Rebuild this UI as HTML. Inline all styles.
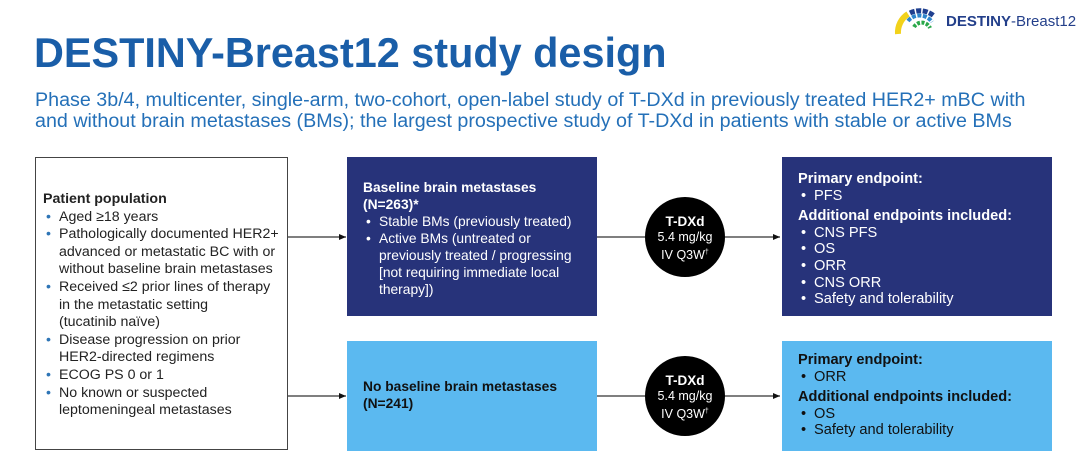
<!DOCTYPE html>
<html><head><meta charset="utf-8"><style>
*{margin:0;padding:0;box-sizing:border-box}
body{width:1080px;height:476px;background:#fff;font-family:"Liberation Sans",Arial,sans-serif;position:relative;overflow:hidden}
.a{position:absolute}
h1{position:absolute;left:34px;top:30px;font-size:41.4px;font-weight:bold;color:#1a5ea8;white-space:nowrap}
.sub{left:35px;top:90px;font-size:19.7px;line-height:21px;color:#2470b8;white-space:nowrap}
.box{position:absolute;font-size:13.8px;line-height:17px;white-space:nowrap}
ul{list-style:none}
li{position:relative;padding-left:16px}
li:before{content:"•";position:absolute;left:3px}
.left li:before{color:#2e75b6}
b{font-weight:bold}
.circ{position:absolute;width:80px;height:80px;border-radius:50%;background:#000;color:#fff;text-align:center;font-size:12.5px;line-height:15px;padding-top:17px}
.circ b{font-size:13.5px}
</style></head><body>
<h1>DESTINY-Breast12 study design</h1>
<div class="a sub">Phase 3b/4, multicenter, single-arm, two-cohort, open-label study of T-DXd in previously treated HER2+ mBC with<br>and without brain metastases (BMs); the largest prospective study of T-DXd in patients with stable or active BMs</div>

<svg class="a" style="left:894px;top:6px" width="50" height="30" viewBox="0 0 50 30">
<path d="M4 28 A22 22 0 0 1 14 8" stroke="#f2d21b" stroke-width="6" fill="none"/>
<path d="M16 7 A22 22 0 0 1 40 10" stroke="#1f3f8f" stroke-width="5" fill="none" stroke-dasharray="5 1.5"/>
<path d="M14 15 A15 15 0 0 1 38 16" stroke="#2d86cc" stroke-width="4" fill="none" stroke-dasharray="4 1.5"/>
<path d="M20 21 A9 9 0 0 1 36 22" stroke="#2aa84a" stroke-width="4" fill="none" stroke-dasharray="3 1.5"/>
</svg>
<div class="a" style="left:946px;top:13px;font-size:15px;color:#233f8a;white-space:nowrap"><b>DESTINY</b>-Breast12</div>

<div class="box left" style="left:35px;top:157px;width:253px;height:293px;border:1px solid #444;padding:33px 0 0 7px;color:#222;font-size:14.2px;line-height:17.6px">
<b>Patient population</b>
<ul>
<li>Aged ≥18 years</li>
<li>Pathologically documented HER2+<br>advanced or metastatic BC with or<br>without baseline brain metastases</li>
<li>Received ≤2 prior lines of therapy<br>in the metastatic setting<br>(tucatinib naïve)</li>
<li>Disease progression on prior<br>HER2-directed regimens</li>
<li>ECOG PS 0 or 1</li>
<li>No known or suspected<br>leptomeningeal metastases</li>
</ul></div>

<div class="box" style="left:347px;top:157px;width:250px;height:159px;background:#27337a;color:#fff;padding:22px 0 0 16px">
<b>Baseline brain metastases<br>(N=263)*</b>
<ul><li>Stable BMs (previously treated)</li><li>Active BMs (untreated or<br>previously treated / progressing<br>[not requiring immediate local<br>therapy])</li></ul></div>

<div class="box" style="left:347px;top:341px;width:250px;height:110px;background:#5bb9f0;color:#111;padding:37px 0 0 16px">
<b>No baseline brain metastases<br>(N=241)</b></div>

<div class="box" style="left:782px;top:157px;width:270px;height:159px;background:#27337a;color:#fff;padding:14px 0 0 16px;font-size:14.6px;line-height:16.6px">
<b>Primary endpoint:</b><ul><li>PFS</li></ul>
<b style="display:block;margin-top:4px">Additional endpoints included:</b>
<ul><li>CNS PFS</li><li>OS</li><li>ORR</li><li>CNS ORR</li><li>Safety and tolerability</li></ul></div>

<div class="box" style="left:782px;top:341px;width:270px;height:110px;background:#5bb9f0;color:#111;padding:11px 0 0 16px;font-size:14.6px;line-height:16.6px">
<b>Primary endpoint:</b><ul><li>ORR</li></ul>
<b style="display:block;margin-top:4px">Additional endpoints included:</b>
<ul><li>OS</li><li>Safety and tolerability</li></ul></div>

<svg class="a" style="left:0;top:0" width="1080" height="476">
<defs><marker id="m" markerWidth="8" markerHeight="8" refX="7" refY="4" orient="auto" markerUnits="userSpaceOnUse"><path d="M0 1 L7 4 L0 7z" fill="#111"/></marker></defs>
<g stroke="#333" stroke-width="1.2" fill="none">
<line x1="288" y1="237" x2="346" y2="237" marker-end="url(#m)"/>
<line x1="288" y1="396" x2="346" y2="396" marker-end="url(#m)"/>
<line x1="597" y1="237" x2="780" y2="237" marker-end="url(#m)"/>
<line x1="597" y1="396" x2="780" y2="396" marker-end="url(#m)"/>
</g></svg>

<div class="circ" style="left:645px;top:197px"><b>T-DXd</b><br>5.4 mg/kg<br>IV Q3W<sup style="font-size:7px">†</sup></div>
<div class="circ" style="left:645px;top:356px"><b>T-DXd</b><br>5.4 mg/kg<br>IV Q3W<sup style="font-size:7px">†</sup></div>
</body></html>
